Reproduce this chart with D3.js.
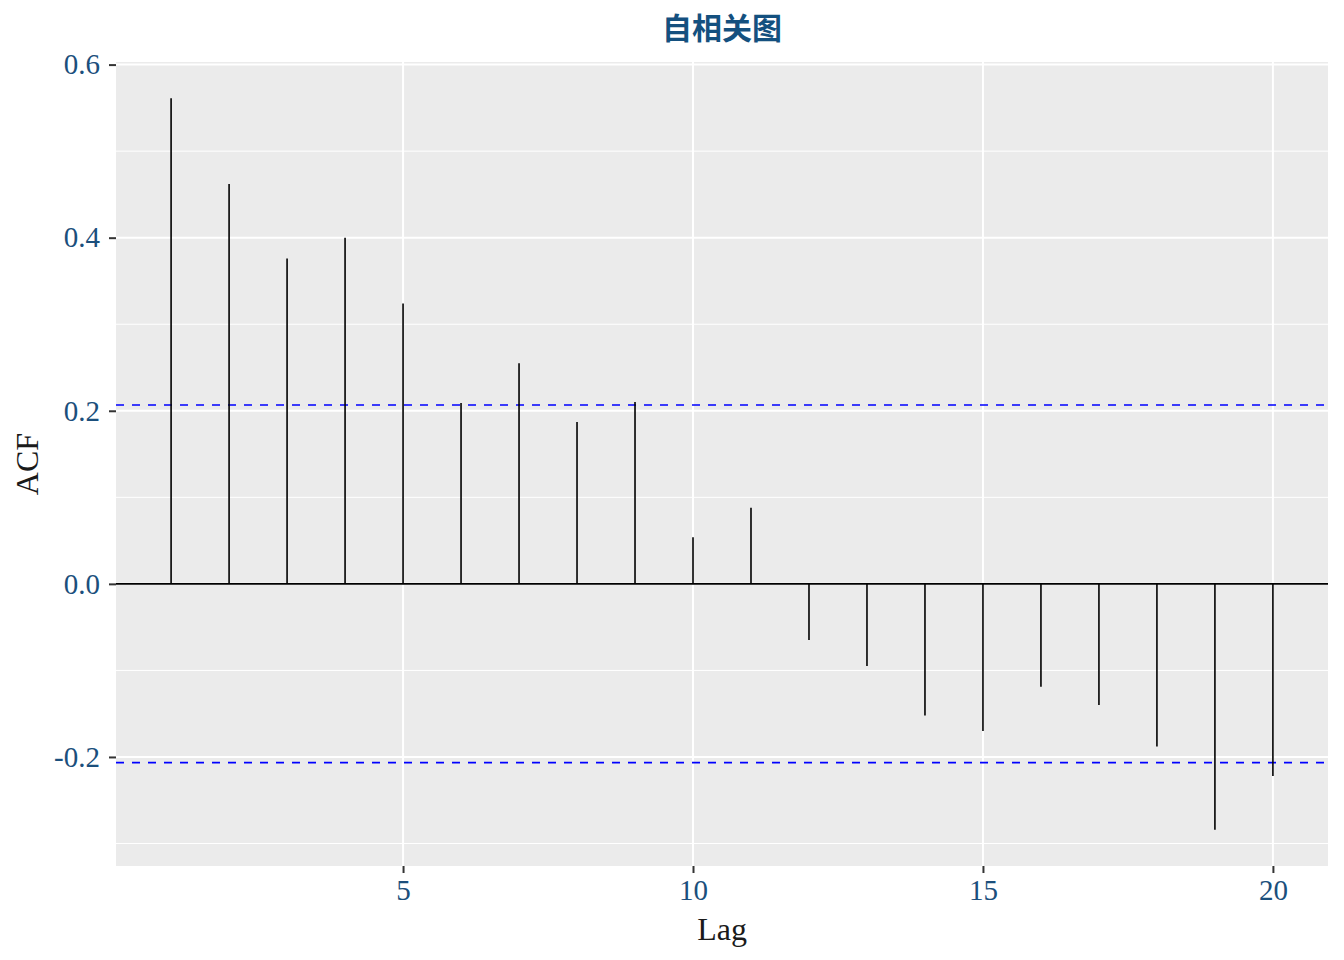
<!DOCTYPE html>
<html><head><meta charset="utf-8">
<script src="https://cdn.jsdelivr.net/npm/d3@7"></script>
<style>body{margin:0;background:#fff}</style>
</head><body>
<script>
const lags = [1,2,3,4,5,6,7,8,9,10,11,12,13,14,15,16,17,18,19,20];
const acf = [0.561,0.462,0.376,0.400,0.324,0.209,0.255,0.187,0.210,0.054,0.088,-0.065,-0.095,-0.152,-0.170,-0.119,-0.140,-0.188,-0.284,-0.222];
const ciBound = 0.2066;
const yTicks = [-0.2,0.0,0.2,0.4,0.6];
const yMinor = [-0.3,-0.1,0.1,0.3,0.5];
const xTicks = [5,10,15,20];
const titleText = "自相关图", xLabel = "Lag", yLabel = "ACF";

const W=1344,H=960;
const m={l:116,r:16,t:62,b:94};
const svg=d3.select("body").append("svg").attr("width",W).attr("height",H);
const x=d3.scaleLinear().domain([0.05,20.95]).range([m.l,W-m.r]);
const y=d3.scaleLinear().domain([-0.326,0.603]).range([H-m.b,m.t]);
const serif="'Liberation Serif','DejaVu Serif',serif";
const tickCol="#1b4f7c";

svg.append("rect").attr("x",m.l).attr("y",m.t).attr("width",W-m.r-m.l).attr("height",H-m.b-m.t).attr("fill","#ebebeb");
const g=svg.append("g");
g.selectAll(".ymin").data(yMinor).join("line").attr("x1",m.l).attr("x2",W-m.r).attr("y1",d=>y(d)).attr("y2",d=>y(d)).attr("stroke","#fff").attr("stroke-width",1);
g.selectAll(".ymaj").data(yTicks).join("line").attr("x1",m.l).attr("x2",W-m.r).attr("y1",d=>y(d)).attr("y2",d=>y(d)).attr("stroke","#fff").attr("stroke-width",2);
g.selectAll(".xmaj").data(xTicks).join("line").attr("y1",m.t).attr("y2",H-m.b).attr("x1",d=>x(d)).attr("x2",d=>x(d)).attr("stroke","#fff").attr("stroke-width",2);

svg.append("line").attr("x1",m.l).attr("x2",W-m.r).attr("y1",y(0)).attr("y2",y(0)).attr("stroke","#000").attr("stroke-width",1.6);
[ciBound,-ciBound].forEach(v=>svg.append("line").attr("x1",m.l).attr("x2",W-m.r).attr("y1",y(v)).attr("y2",y(v)).attr("stroke","#0000ff").attr("stroke-width",1.6).attr("stroke-dasharray","8,8"));
svg.selectAll(".seg").data(lags).join("line").attr("x1",d=>x(d)).attr("x2",d=>x(d)).attr("y1",y(0)).attr("y2",(d,i)=>y(acf[i])).attr("stroke","#000").attr("stroke-width",1.6);

const fmt=d3.format(".1f");
const ya=svg.append("g").attr("transform",`translate(${m.l},0)`).call(d3.axisLeft(y).tickValues(yTicks).tickSize(7).tickPadding(9).tickFormat(d=>fmt(d).replace("−","-")));
const xa=svg.append("g").attr("transform",`translate(0,${H-m.b})`).call(d3.axisBottom(x).tickValues(xTicks).tickSize(7).tickPadding(6));
[ya,xa].forEach(a=>{a.select(".domain").remove();a.selectAll("line").attr("stroke","#333").attr("stroke-width",2);a.selectAll("text").attr("fill",tickCol).style("font-family",serif).style("font-size","29px");});

svg.append("text").attr("x",(m.l+W-m.r)/2).attr("y",940).attr("text-anchor","middle").style("font-family",serif).style("font-size","32px").attr("fill","#1a1a1a").text(xLabel);
svg.append("text").attr("transform",`translate(38,${(m.t+H-m.b)/2}) rotate(-90)`).attr("text-anchor","middle").style("font-family",serif).style("font-size","32px").attr("fill","#1a1a1a").text(yLabel);
svg.append("text").attr("x",(m.l+W-m.r)/2).attr("y",39).attr("text-anchor","middle").style("font-family","'Noto Sans CJK SC',sans-serif").style("font-weight","bold").style("font-size","30px").attr("fill","#14507f").text(titleText);
</script>
</body></html>
